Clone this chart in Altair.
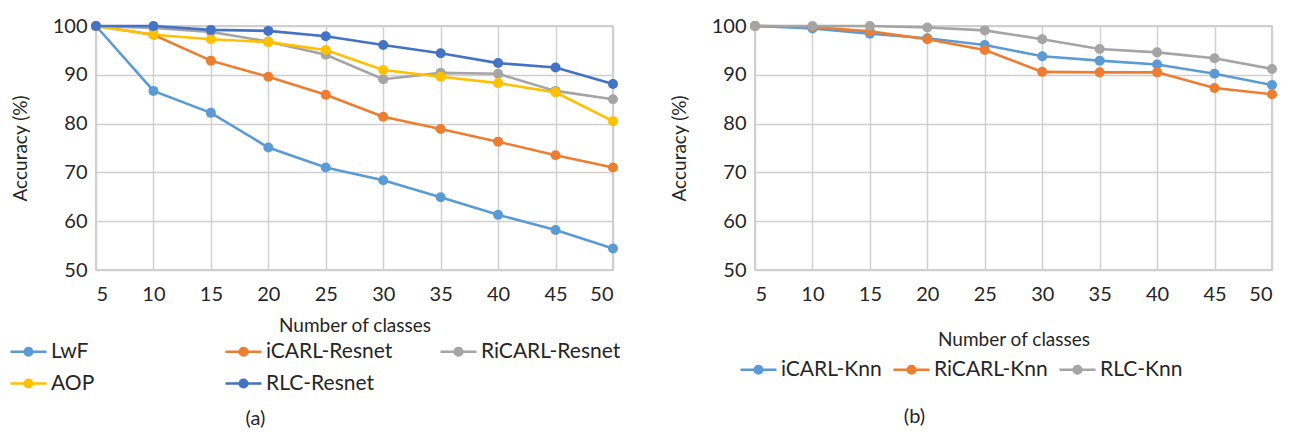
import altair as alt
import pandas as pd

classes = [5, 10, 15, 20, 25, 30, 35, 40, 45, 50]

# Panel (a)
lwf = [100, 86.7, 82.2, 75.1, 71.0, 68.4, 64.9, 61.3, 58.2, 54.4]
icarl_resnet = [100, 98.2, 92.9, 89.6, 85.9, 81.4, 78.9, 76.3, 73.5, 71.0]
ricarl_resnet = [100, 99.6, 98.8, 96.8, 94.1, 89.1, 90.4, 90.2, 86.7, 85.0]
aop = [100, 98.2, 97.3, 96.7, 95.1, 91.0, 89.6, 88.3, 86.4, 80.5]
rlc_resnet = [100, 100, 99.2, 99.0, 97.9, 96.1, 94.4, 92.4, 91.5, 88.1]

# Panel (b)
icarl_knn = [100, 99.5, 98.4, 97.5, 96.1, 93.8, 92.9, 92.1, 90.2, 87.9]
ricarl_knn = [100, 99.8, 98.9, 97.3, 95.1, 90.6, 90.5, 90.5, 87.3, 86.0]
rlc_knn = [100, 100, 100, 99.7, 99.1, 97.3, 95.3, 94.6, 93.4, 91.2]

names_a = ["LwF", "iCARL-Resnet", "RiCARL-Resnet", "AOP", "RLC-Resnet"]
series_a = [lwf, icarl_resnet, ricarl_resnet, aop, rlc_resnet]
colors_a = ["#5B9BD5", "#ED7D31", "#A5A5A5", "#FFC000", "#4472C4"]

names_b = ["iCARL-Knn", "RiCARL-Knn", "RLC-Knn"]
series_b = [icarl_knn, ricarl_knn, rlc_knn]
colors_b = ["#5B9BD5", "#ED7D31", "#A5A5A5"]

y_ticks = [50, 60, 70, 80, 90, 100]

FONT = "Lato"
TXT = "#262626"
# line with a "filled" dot drawn as concentric stroked rings
SYM = ("M-1.8,0H1.8"
       "M0.08,0A0.08,0.08,0,1,1,-0.08,0A0.08,0.08,0,1,1,0.08,0"
       "M0.25,0A0.25,0.25,0,1,1,-0.25,0A0.25,0.25,0,1,1,0.25,0"
       "M0.38,0A0.38,0.38,0,1,1,-0.38,0A0.38,0.38,0,1,1,0.38,0")


def long_df(names, series):
    rows = []
    for n, vals in zip(names, series):
        for c, v in zip(classes, vals):
            rows.append({"classes": c, "acc": v, "series": n})
    return pd.DataFrame(rows)


def panel(names, series, colors, legend, caption, xtitle_pad, cap_offset):
    df = long_df(names, series)
    sc = alt.Scale(domain=names, range=colors)
    base = alt.Chart(df).encode(
        x=alt.X("classes:Q", scale=alt.Scale(domain=[5, 50], nice=False, zero=False),
                axis=alt.Axis(values=classes, title="Number of classes", titlePadding=xtitle_pad,
                              labelPadding=14)),
        y=alt.Y("acc:Q", scale=alt.Scale(domain=[50, 100], nice=False, zero=False),
                axis=alt.Axis(values=y_ticks, title="Accuracy (%)", titlePadding=22,
                              labelPadding=9)),
    )
    lines = base.mark_line(strokeWidth=2.6).encode(
        color=alt.Color("series:N", scale=sc, legend=legend, sort=names),
    )
    pts = base.mark_circle(size=100, opacity=1).encode(
        color=alt.Color("series:N", scale=sc, legend=None, sort=names),
    )
    return alt.layer(lines, pts).properties(
        width=517, height=244,
        title=alt.TitleParams(caption, orient="bottom", anchor="middle", dx=-99,
                              fontSize=20, font=FONT, fontWeight="normal", color=TXT,
                              offset=cap_offset),
    )


def leg(x, y, cols, colpad, grid):
    return alt.Legend(
        orient="none", legendX=x, legendY=y, direction="horizontal", columns=cols,
        gridAlign=grid, columnPadding=colpad, rowPadding=10, title=None, padding=0,
        symbolType=SYM, symbolSize=400, symbolStrokeWidth=2.6, labelOffset=11,
        labelFontSize=21, labelFont=FONT, labelColor=TXT, labelLimit=300,
    )


left = panel(names_a, series_a, colors_a, leg(-79, 314, 3, 29, "all"), "(a)", 12, 15)
right = panel(names_b, series_b, colors_b, leg(-8, 332, 3, 6, "each"), "(b)", 26, 27)

chart = alt.hconcat(left, right, spacing=47).resolve_scale(
    color="independent"
).configure(
    font=FONT, padding={"left": 2, "top": 7, "right": 0, "bottom": 0}
).configure_view(
    stroke="#BFBFBF", strokeWidth=1.5
).configure_axis(
    grid=True, gridColor="#D0D0D0", gridWidth=1.5, domain=False, ticks=False,
    labelFont=FONT, labelFontSize=20, labelColor=TXT,
    titleFont=FONT, titleFontSize=19, titleColor=TXT, titleFontWeight="normal",
)

chart.save("out.html", embed_options={"renderer": "svg", "actions": False})
